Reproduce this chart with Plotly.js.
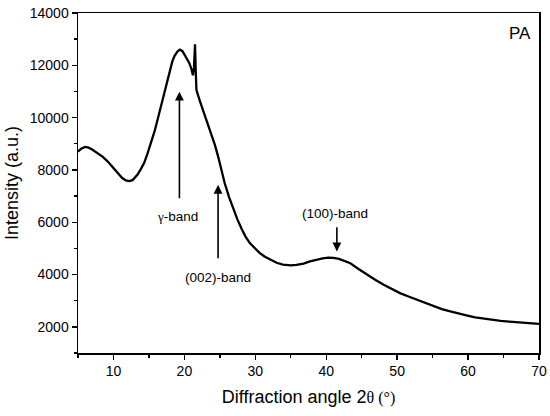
<!DOCTYPE html>
<html>
<head>
<meta charset="utf-8">
<script src="https://cdn.plot.ly/plotly-3.0.1.min.js"></script>
<style>html,body{margin:0;padding:0;background:#fff;}#chart{width:550px;height:416px;}</style>
</head>
<body>
<div id="chart"></div>
<script>
// Diffraction angle 2θ (°)
var angle = [5.0,5.5,6.0,6.5,7.0,7.75,8.5,9.2,10.0,10.6,11.2,11.75,12.2,12.7,13.4,13.9,14.35,14.8,15.3,15.8,16.2,16.7,17.2,17.6,17.9,18.3,18.6,19.0,19.35,19.7,20.0,20.4,20.7,21.0,21.2,21.35,21.5,21.6,21.7,22.2,22.7,23.3,23.8,24.3,24.75,25.2,25.7,26.3,26.9,27.5,28.1,28.6,29.2,29.9,30.6,31.3,32.0,33.0,33.9,35.0,35.8,36.8,37.7,38.6,39.5,40.3,41.0,41.8,42.6,43.4,44.5,45.7,46.9,48.1,49.2,50.4,51.6,52.8,54.0,55.1,56.3,57.5,58.7,59.9,61.0,62.2,63.4,64.6,65.8,66.9,68.3,69.75,70.0];
// Intensity (a.u.)
var intensity = [8700,8820,8880,8850,8780,8650,8500,8320,8080,7880,7700,7600,7570,7610,7820,8050,8280,8620,9030,9480,9900,10450,11000,11450,11800,12150,12350,12520,12600,12550,12420,12250,12080,11850,11620,11900,12800,11800,11050,10620,10230,9820,9400,8960,8520,8020,7480,6960,6500,6090,5730,5460,5210,5000,4830,4690,4580,4450,4380,4350,4370,4420,4500,4570,4620,4650,4640,4600,4530,4430,4220,4000,3800,3610,3450,3290,3160,3040,2900,2780,2680,2590,2500,2430,2360,2310,2270,2230,2200,2170,2140,2120,2110];
var xTicks = [10,20,30,40,50,60,70];
var yTicks = [2000,4000,6000,8000,10000,12000,14000];

var trace = {
  x: angle, y: intensity, type: 'scatter', mode: 'lines',
  line: {color: '#000', width: 2.3}, hoverinfo: 'skip'
};

var font = 'Arial, "Liberation Sans", sans-serif';

var layout = {
  width: 550, height: 416,
  margin: {l: 78, r: 11, t: 13, b: 63},
  paper_bgcolor: '#fff', plot_bgcolor: '#fff',
  showlegend: false,
  font: {family: font, color: '#000'},
  xaxis: {
    range: [5, 70], tickvals: xTicks, ticktext: xTicks.map(String),
    ticks: 'outside', ticklen: 5, tickwidth: 1.4, tickcolor: '#000',
    minor: {dtick: 5, tick0: 0, ticks: 'outside', ticklen: 3, tickwidth: 1.4, tickcolor: '#000'},
    showline: true, linecolor: '#000', linewidth: 1.5, mirror: true,
    showgrid: false, zeroline: false,
    tickfont: {size: 14, family: font},
    title: {text: 'Diffraction angle 2<span style="font-family:' + "'Liberation Serif'" + ';font-size:16px">θ (°)</span>', font: {size: 18, family: font}, standoff: 12}
  },
  yaxis: {
    range: [1000, 14000], tickvals: yTicks, ticktext: yTicks.map(String),
    ticks: 'outside', ticklen: 5, tickwidth: 1.4, tickcolor: '#000',
    minor: {dtick: 1000, tick0: 0, ticks: 'outside', ticklen: 3, tickwidth: 1.4, tickcolor: '#000'},
    showline: true, linecolor: '#000', linewidth: 1.5, mirror: true,
    showgrid: false, zeroline: false,
    tickfont: {size: 14, family: font},
    title: {text: 'Intensity (a.u.)', font: {size: 18, family: font}, standoff: 6}
  },
  annotations: [
    {xref: 'paper', yref: 'paper', x: 0.988, y: 0.94, xanchor: 'right', yanchor: 'middle', text: 'PA', showarrow: false, font: {size: 17, family: font}},
    // gamma-band arrow
    {xref: 'x', yref: 'y', axref: 'x', ayref: 'y', x: 19.3, y: 10990, ax: 19.3, ay: 6860, text: '', showarrow: true, arrowhead: 2, arrowsize: 1.1, arrowwidth: 1.6, arrowcolor: '#000', standoff: 0, startstandoff: 0},
    {xref: 'x', yref: 'y', x: 19.0, y: 6220, text: '<span style="font-family:\'Liberation Serif\';font-size:13px">γ</span>-band', showarrow: false, font: {size: 13.5, family: font}},
    // (002)-band arrow
    {xref: 'x', yref: 'y', axref: 'x', ayref: 'y', x: 24.75, y: 7430, ax: 24.75, ay: 4566, text: '', showarrow: true, arrowhead: 2, arrowsize: 1.1, arrowwidth: 1.6, arrowcolor: '#000', standoff: 0, startstandoff: 0},
    {xref: 'x', yref: 'y', x: 24.75, y: 3905, text: '(002)-band', showarrow: false, font: {size: 13.5, family: font}},
    // (100)-band arrow
    {xref: 'x', yref: 'y', axref: 'x', ayref: 'y', x: 41.5, y: 4884, ax: 41.5, ay: 5866, text: '', showarrow: true, arrowhead: 2, arrowsize: 1.1, arrowwidth: 1.6, arrowcolor: '#000', standoff: 0, startstandoff: 0},
    {xref: 'x', yref: 'y', x: 41.3, y: 6325, text: '(100)-band', showarrow: false, font: {size: 13.5, family: font}}
  ]
};

Plotly.newPlot('chart', [trace], layout, {staticPlot: true, displayModeBar: false});
</script>
</body>
</html>
